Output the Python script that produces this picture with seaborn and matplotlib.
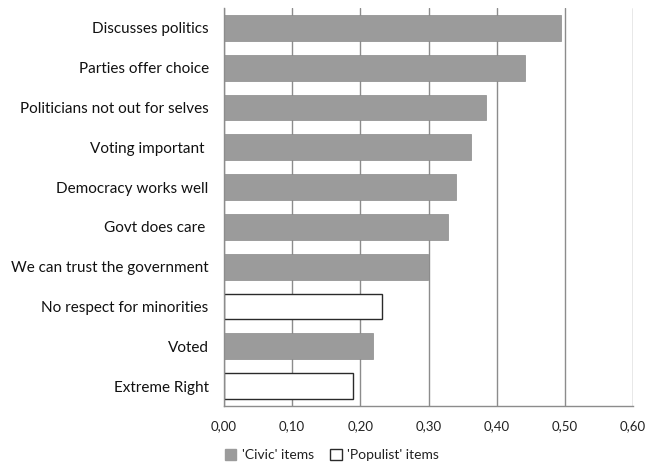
import matplotlib
matplotlib.use("Agg")
import matplotlib.pyplot as plt
import seaborn as sns
import pandas as pd
import numpy as np
from matplotlib.ticker import FuncFormatter, FixedLocator
from matplotlib.patches import Patch

items = ["Discusses politics", "Parties offer choice", "Politicians not out for selves",
         "Voting important ", "Democracy works well", "Govt does care ",
         "We can trust the government", "No respect for minorities", "Voted", "Extreme Right"]
values = [0.495, 0.441, 0.385, 0.363, 0.340, 0.329, 0.299, 0.232, 0.219, 0.189]
kinds = ["Civic", "Civic", "Civic", "Civic", "Civic", "Civic", "Civic", "Populist", "Civic", "Populist"]
x_ticks = [0.0, 0.1, 0.2, 0.3, 0.4, 0.5, 0.6]

df = pd.DataFrame({"item": items, "value": values, "kind": kinds})

sns.set_style("white")
plt.rcParams["font.family"] = ["Lato", "DejaVu Sans"]

fig = plt.figure(figsize=(6.46, 4.63), dpi=100)
ax = fig.add_axes([224/646, 1-406/463, (633-224)/646, (406-8)/463])

palette = {"Civic": "#9b9b9b", "Populist": "#ffffff"}
sns.barplot(data=df, x="value", y="item", hue="kind", palette=palette, dodge=False,
            width=0.65, order=items, ax=ax, legend=False, saturation=1)

for p in ax.patches:
    fc = p.get_facecolor()
    if fc[0] > 0.9:
        p.set_edgecolor("#2a2a2a")
        p.set_linewidth(1.0)
    else:
        p.set_edgecolor("#8a8a8a")
        p.set_linewidth(0.5)

ax.set_xlim(0, 0.6)
ax.set_ylim(len(items) - 0.5, -0.5)
ax.set_xticks(x_ticks)
ax.xaxis.set_major_formatter(FuncFormatter(lambda v, pos: f"{v:.2f}".replace(".", ",")))
ax.grid(axis="x", color="#8c8c8c", linewidth=1.0)
ax.set_axisbelow(True)
ax.set_xlabel("")
ax.set_ylabel("")

for s in ["top", "right"]:
    ax.spines[s].set_visible(False)
for s in ["left", "bottom"]:
    ax.spines[s].set_color("#8c8c8c")
    ax.spines[s].set_linewidth(1.0)

ax.tick_params(axis="x", length=4, color="#8c8c8c", labelsize=9.5, labelcolor="#222222", pad=6, direction="out")
ax.tick_params(axis="y", which="major", length=0, labelsize=11, labelcolor="#111111", pad=11)
ax.yaxis.set_minor_locator(FixedLocator(np.arange(-0.5, len(items), 1.0)))
ax.tick_params(axis="y", which="minor", length=4, color="#8c8c8c", direction="out")

handles = [Patch(facecolor="#9b9b9b", edgecolor="#9b9b9b", label="'Civic' items"),
           Patch(facecolor="white", edgecolor="#2a2a2a", label="'Populist' items")]
fig.legend(handles=handles, loc="center", bbox_to_anchor=(332/646, 1-455/463), ncol=2,
           frameon=False, fontsize=10, handlelength=0.8, handleheight=0.8,
           handletextpad=0.4, columnspacing=1.2, labelcolor="#222222")

fig.savefig("out.png", dpi=100)
